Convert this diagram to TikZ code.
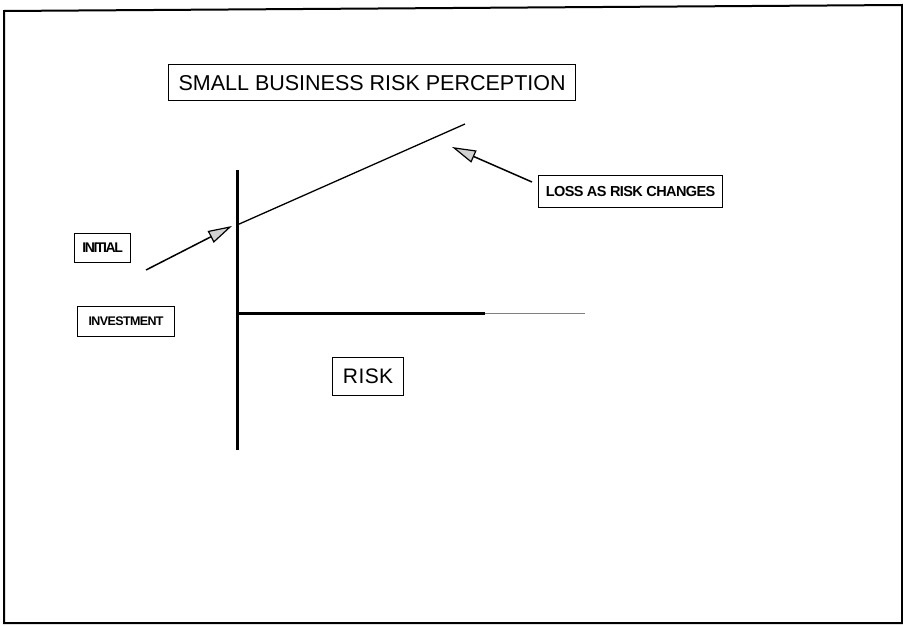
\documentclass[tikz,border=0pt]{standalone}
\usepackage{fontspec}
\setmainfont{Liberation Sans}
\usetikzlibrary{arrows.meta}
\begin{document}
\begin{tikzpicture}[x=1pt,y=-1pt,
  lbl/.style={draw,line width=1.2pt,inner sep=0pt,anchor=north west},
  ptr/.style={line width=1.5pt,-{Triangle[length=24pt,width=13pt,fill=gray!35,line width=1.2pt]}},
  axis/.style={line width=3pt}]
\useasboundingbox (0,0) rectangle (903,626);
\draw[line width=2pt] (4,11) -- (4,623) -- (902,623) -- (902,5) -- (4,11) -- cycle;
% title
\node[lbl,minimum width=407pt,minimum height=36pt] (title) at (168,64) {\fontsize{21.5}{21.5}\selectfont SMALL BUSINESS RISK PERCEPTION};
% axes
\coordinate (vtop) at (237,170);
\coordinate (vbot) at (237,450);
\coordinate (origin) at (237,313);
\coordinate (hmid) at (485,313);
\coordinate (hend) at (585,313);
\draw[axis] (vtop) -- (vbot);
\draw[axis] (origin) -- (hmid);
\draw[line width=1pt,gray] (hmid) -- (hend);
% loss line
\coordinate (l0) at (237,225);
\coordinate (l1) at (465,124);
\draw[line width=1.3pt] (l0) -- (l1);
% labels
\node[lbl,minimum width=56pt,minimum height=29pt] (initial) at (74,233) {\fontsize{14}{14}\selectfont\bfseries\addfontfeature{LetterSpace=-10}INITIAL};
\node[lbl,minimum width=97pt,minimum height=30pt] (invest) at (77,306) {\fontsize{12.5}{12.5}\selectfont\bfseries\addfontfeature{LetterSpace=-5}INVESTMENT};
\node[lbl,minimum width=184pt,minimum height=32pt] (loss) at (538,175) {\fontsize{14.5}{14.5}\selectfont\bfseries\addfontfeature{LetterSpace=-4}LOSS AS RISK CHANGES};
\node[lbl,minimum width=71pt,minimum height=38pt] (risk) at (332,357) {\fontsize{21}{21}\selectfont\addfontfeature{LetterSpace=2}RISK};
% arrows
\coordinate (a0) at (146,270);
\coordinate (a1) at (232,226);
\draw[ptr] (a0) -- (a1);
\coordinate (b0) at (532,182);
\coordinate (b1) at (452,147);
\draw[ptr] (b0) -- (b1);
\end{tikzpicture}
\end{document}
